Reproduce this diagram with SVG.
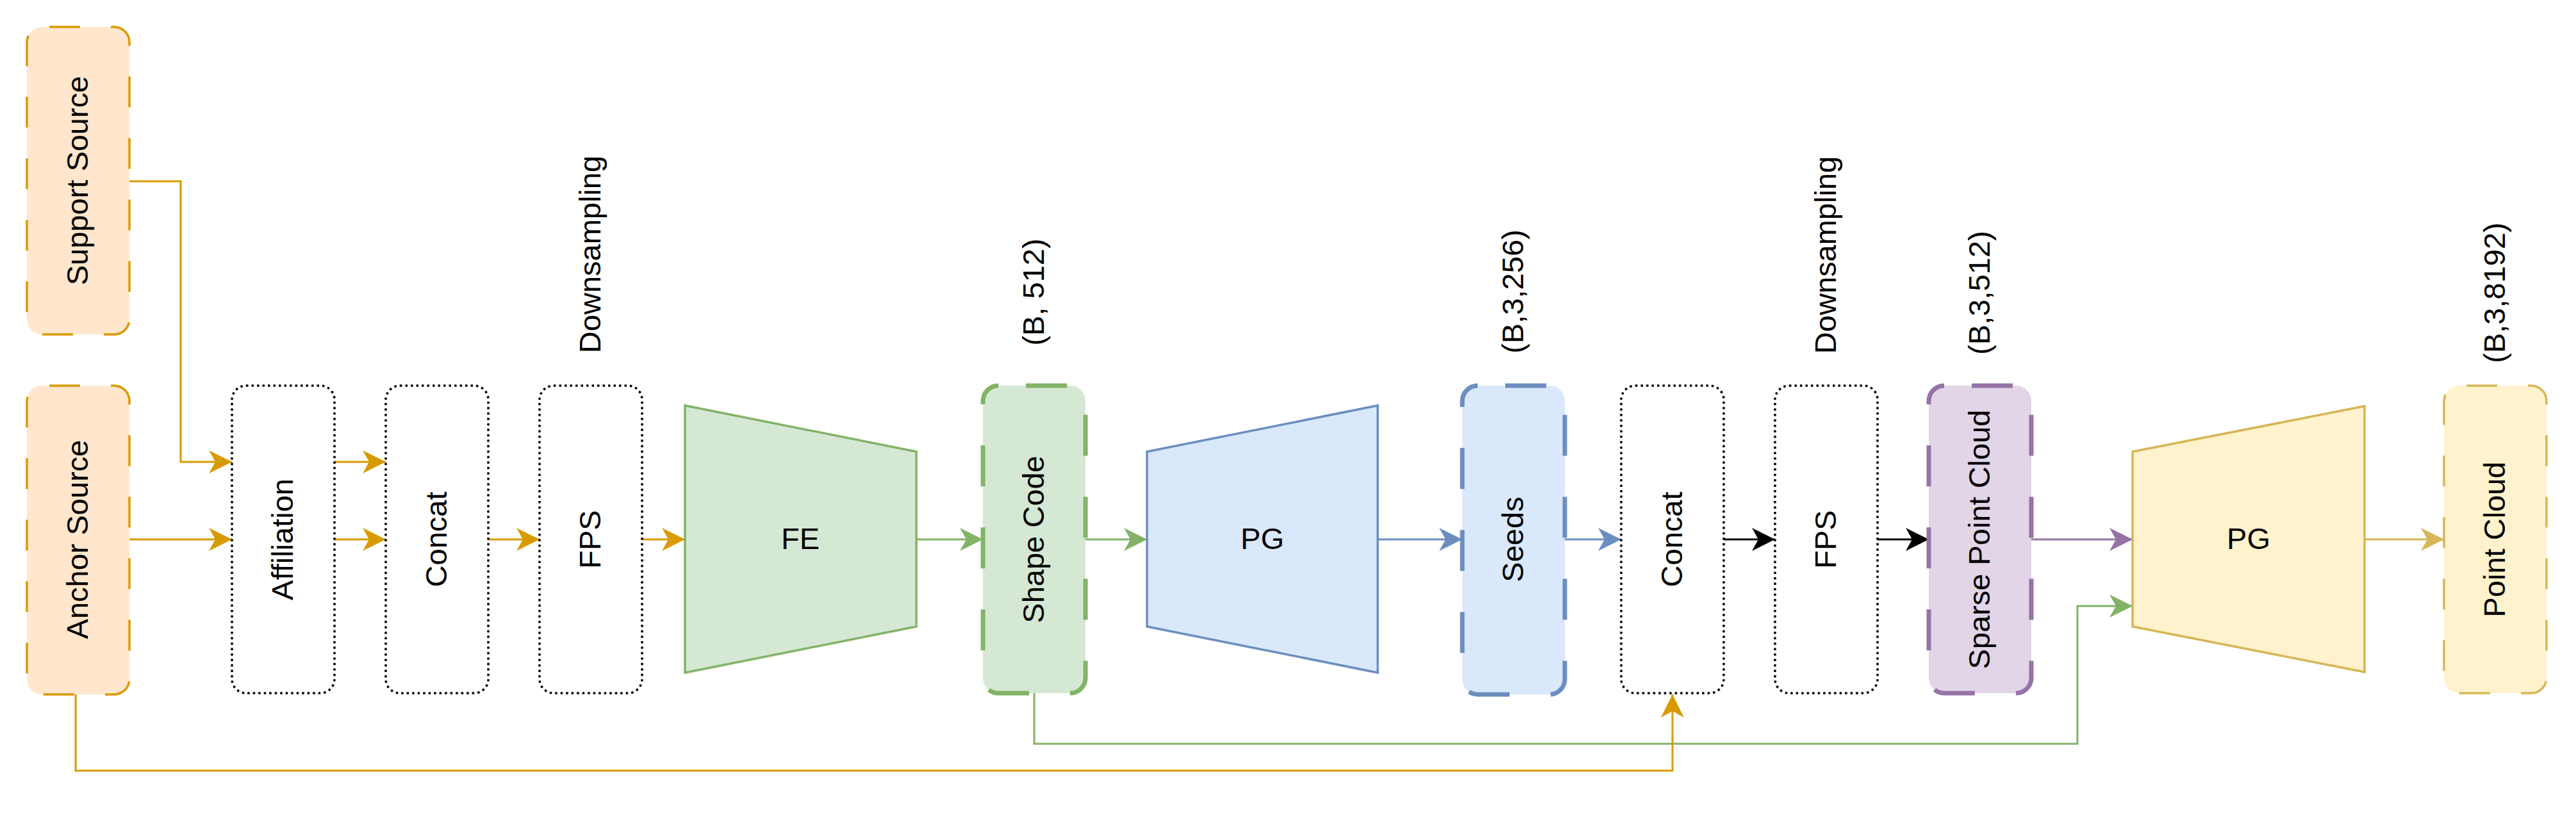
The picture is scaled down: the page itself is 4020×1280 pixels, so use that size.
<svg xmlns="http://www.w3.org/2000/svg" width="4020" height="1280" viewBox="0 0 4020 1280">
<style>
text{font-family:"Liberation Sans",Arial,Helvetica,sans-serif;font-size:47px;fill:#000;text-anchor:middle}
.dot{fill:#fff;stroke:#000;stroke-width:3.5;stroke-dasharray:3.5 5}
.thin{stroke-width:3.5;stroke-dasharray:48 48;stroke-dashoffset:-11}
.thick{stroke-width:7;stroke-dasharray:64 64;stroke-dashoffset:-43}
.or{fill:#ffe6cc;stroke:#d79b00}
.gr{fill:#d5e8d4;stroke:#82b366}
.bl{fill:#dae8fc;stroke:#6c8ebf}
.pu{fill:#e1d5e7;stroke:#9673a6}
.ye{fill:#fff2cc;stroke:#d6b656}
.trap{stroke-width:3.5}
.c{fill:none;stroke-width:3}
</style>
<defs>
<marker id="aO" viewBox="0 0 36 36" refX="36" refY="18" markerWidth="36" markerHeight="36" markerUnits="userSpaceOnUse" orient="auto"><path d="M36,18 L0,0 L10,18 L0,36 Z" fill="#d79b00"/></marker>
<marker id="aG" viewBox="0 0 36 36" refX="36" refY="18" markerWidth="36" markerHeight="36" markerUnits="userSpaceOnUse" orient="auto"><path d="M36,18 L0,0 L10,18 L0,36 Z" fill="#82b366"/></marker>
<marker id="aB" viewBox="0 0 36 36" refX="36" refY="18" markerWidth="36" markerHeight="36" markerUnits="userSpaceOnUse" orient="auto"><path d="M36,18 L0,0 L10,18 L0,36 Z" fill="#6c8ebf"/></marker>
<marker id="aK" viewBox="0 0 36 36" refX="36" refY="18" markerWidth="36" markerHeight="36" markerUnits="userSpaceOnUse" orient="auto"><path d="M36,18 L0,0 L10,18 L0,36 Z" fill="#000"/></marker>
<marker id="aP" viewBox="0 0 36 36" refX="36" refY="18" markerWidth="36" markerHeight="36" markerUnits="userSpaceOnUse" orient="auto"><path d="M36,18 L0,0 L10,18 L0,36 Z" fill="#9673a6"/></marker>
<marker id="aY" viewBox="0 0 36 36" refX="36" refY="18" markerWidth="36" markerHeight="36" markerUnits="userSpaceOnUse" orient="auto"><path d="M36,18 L0,0 L10,18 L0,36 Z" fill="#d6b656"/></marker>
</defs>
<rect width="4020" height="1280" fill="#fff"/>

<g id="connectors">
<path class="c" stroke="#82b366" d="M1614,1082 V1161 H3242 V946 H3328" marker-end="url(#aG)"/>
<path class="c" stroke="#d79b00" d="M118,1084 V1203 H2610 V1084" marker-end="url(#aO)"/>
<path class="c" stroke="#d79b00" d="M202,283 H282 V721 H362" marker-end="url(#aO)"/>
<path class="c" stroke="#d79b00" d="M202,842 H362" marker-end="url(#aO)"/>
<path class="c" stroke="#d79b00" d="M522,721 H602" marker-end="url(#aO)"/>
<path class="c" stroke="#d79b00" d="M522,842 H602" marker-end="url(#aO)"/>
<path class="c" stroke="#d79b00" d="M762,842 H842" marker-end="url(#aO)"/>
<path class="c" stroke="#d79b00" d="M1002,842 H1069" marker-end="url(#aO)"/>
<path class="c" stroke="#82b366" d="M1430,842 H1534" marker-end="url(#aG)"/>
<path class="c" stroke="#82b366" d="M1694,842 H1790" marker-end="url(#aG)"/>
<path class="c" stroke="#6c8ebf" d="M2150,842 H2282" marker-end="url(#aB)"/>
<path class="c" stroke="#6c8ebf" d="M2442,842 H2530" marker-end="url(#aB)"/>
<path class="c" stroke="#000" d="M2690,842 H2770" marker-end="url(#aK)"/>
<path class="c" stroke="#000" d="M2930,842 H3010" marker-end="url(#aK)"/>
<path class="c" stroke="#9673a6" d="M3170,842 H3328" marker-end="url(#aP)"/>
<path class="c" stroke="#d6b656" d="M3690,842 H3814" marker-end="url(#aY)"/>
</g>

<g id="support-source">
<rect class="or thin" x="42" y="42" width="160" height="480" rx="24"/>
<text transform="translate(122,282) rotate(-90)" y="15">Support Source</text>
</g>
<g id="anchor-source">
<rect class="or thin" x="42" y="602" width="160" height="482" rx="24"/>
<text transform="translate(122,842) rotate(-90)" y="15">Anchor Source</text>
</g>
<g id="affiliation">
<rect class="dot" x="362" y="602" width="160" height="480" rx="22"/>
<text transform="translate(442,842) rotate(-90)" y="15">Affiliation</text>
</g>
<g id="concat1">
<rect class="dot" x="602" y="602" width="160" height="480" rx="22"/>
<text transform="translate(682,842) rotate(-90)" y="15">Concat</text>
</g>
<g id="fps1">
<rect class="dot" x="842" y="602" width="160" height="480" rx="22"/>
<text transform="translate(922,842) rotate(-90)" y="15">FPS</text>
</g>
<g id="downsampling1-label">
<text transform="translate(922,397) rotate(-90)" y="15">Downsampling</text>
</g>
<g id="fe">
<polygon class="gr trap" points="1069,633 1430,705 1430,978 1069,1050"/>
<text x="1249" y="857">FE</text>
</g>
<g id="shape-code">
<rect class="gr thick" x="1534" y="602" width="160" height="480" rx="24"/>
<text transform="translate(1614,842) rotate(-90)" y="15">Shape Code</text>
<text transform="translate(1614,456) rotate(-90)" y="15">(B, 512)</text>
</g>
<g id="pg1">
<polygon class="bl trap" points="1790,705 2150,633 2150,1050 1790,978"/>
<text x="1970" y="857">PG</text>
</g>
<g id="seeds">
<rect class="bl thick" x="2282" y="602" width="160" height="482" rx="24"/>
<text transform="translate(2362,842) rotate(-90)" y="15">Seeds</text>
<text transform="translate(2362,455) rotate(-90)" y="15">(B,3,256)</text>
</g>
<g id="concat2">
<rect class="dot" x="2530" y="602" width="160" height="480" rx="22"/>
<text transform="translate(2610,842) rotate(-90)" y="15">Concat</text>
</g>
<g id="fps2">
<rect class="dot" x="2770" y="602" width="160" height="480" rx="22"/>
<text transform="translate(2850,842) rotate(-90)" y="15">FPS</text>
</g>
<g id="downsampling2-label">
<text transform="translate(2850,398) rotate(-90)" y="15">Downsampling</text>
</g>
<g id="sparse-point-cloud">
<rect class="pu thick" x="3010" y="602" width="160" height="480" rx="24"/>
<text transform="translate(3090,842) rotate(-90)" y="15">Sparse Point Cloud</text>
<text transform="translate(3090,457) rotate(-90)" y="15">(B,3,512)</text>
</g>
<g id="pg2">
<polygon class="ye trap" points="3328,705 3690,634 3690,1049 3328,978"/>
<text x="3509" y="857">PG</text>
</g>
<g id="point-cloud">
<rect class="ye thin" x="3814" y="602" width="160" height="480" rx="24"/>
<text transform="translate(3894,842) rotate(-90)" y="15">Point Cloud</text>
<text transform="translate(3894,457) rotate(-90)" y="15">(B,3,8192)</text>
</g>
</svg>
